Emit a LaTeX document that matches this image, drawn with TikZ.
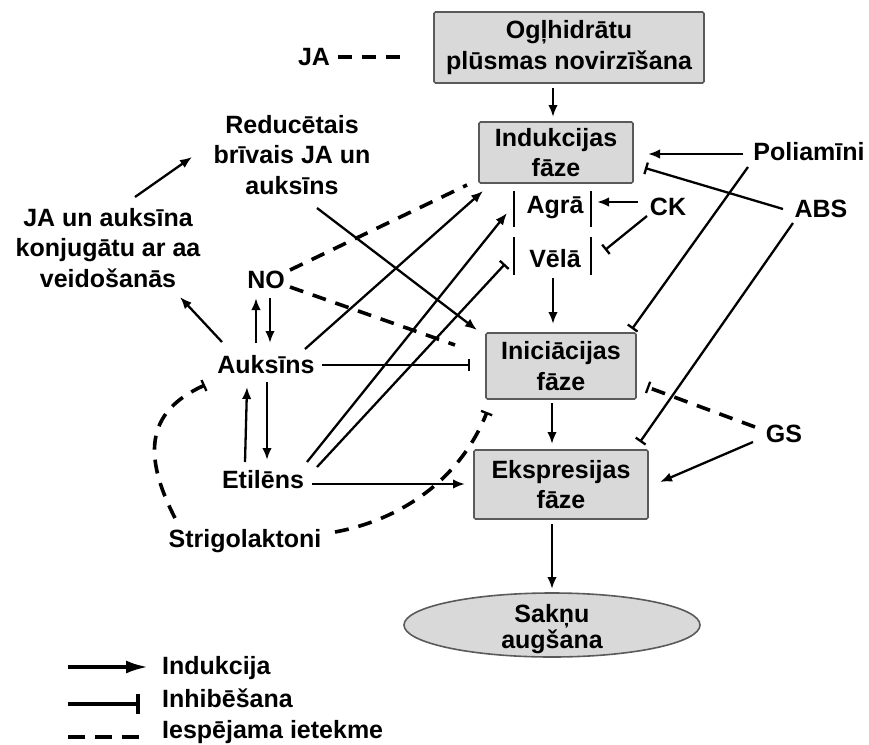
\documentclass[tikz,border=0pt]{standalone}
\usepackage{fontspec}
\setmainfont{Liberation Sans}
\usetikzlibrary{arrows.meta,shapes.geometric}
\definecolor{boxfill}{HTML}{D9D9D9}
\definecolor{boxborder}{HTML}{5A5A5A}
\begin{document}
\begin{tikzpicture}[x=1pt,y=-1pt,
  font=\bfseries\fontsize{25}{30.5}\selectfont,
  lbl/.style={inner sep=0pt, anchor=base},
  mlbl/.style={inner sep=0pt, align=center},
  phase/.style={draw=boxborder, fill=boxfill, line width=1.6pt, rounded corners=1.5pt, inner sep=0pt, align=center},
  conn/.style={line width=2.3pt},
  indarr/.style={conn, -{Latex[length=12pt,width=9.5pt]}},
  inharr/.style={conn, -{Bar[width=12pt,line width=2.3pt]}},
  poss/.style={line width=3.6pt, dash pattern=on 14pt off 10pt},
  posinh/.style={poss, -{Bar[width=12pt,line width=2.3pt]}},
  stage/.style={line width=2.6pt}
]
\useasboundingbox (0,0) rectangle (869,744);

% boxes
\node[phase, minimum width=270pt, minimum height=71pt] (ogl) at (569,47.5) {Ogļhidrātu\\plūsmas novirzīšana};
\node[phase, minimum width=154pt, minimum height=61pt] (indf) at (556,152.5) {Indukcijas\\fāze};
\node[phase, minimum width=150pt, minimum height=66pt] (inif) at (561,366) {Iniciācijas\\fāze};
\node[phase, minimum width=174pt, minimum height=69pt] (eksf) at (561,484.5) {Ekspresijas\\fāze};
\node[ellipse, draw=boxborder, fill=boxfill, line width=1.6pt, minimum width=296pt, minimum height=64pt, inner sep=0pt] (sak) at (552,625) {};
\node[mlbl, font=\bfseries\fontsize{25}{26}\selectfont] (saktxt) at (552,629.5) {Sakņu\\augšana};

% stages
\node[lbl] (agra) at (555,213) {Agrā};
\node[lbl] (vela) at (555,267) {Vēlā};
\draw[stage] (514,191) -- (514,227);
\draw[stage] (591,191) -- (591,227);
\draw[stage] (514,237) -- (514,275);
\draw[stage] (591,237) -- (591,275);

% labels
\node[lbl] (ja) at (314,65) {JA};
\node[mlbl] (red) at (292,155) {Reducētais\\brīvais JA un\\auksīns};
\node[mlbl] (konj) at (108,248) {JA un auksīna\\konjugātu ar aa\\veidošanās};
\node[lbl] (no) at (266,288) {NO};
\node[lbl] (aux) at (266,373) {Auksīns};
\node[lbl] (eti) at (263,488) {Etilēns};
\node[lbl] (str) at (245,547) {Strigolaktoni};
\node[lbl] (pol) at (809,160) {Poliamīni};
\node[lbl] (abs) at (821,217) {ABS};
\node[lbl] (ck) at (668,215) {CK};
\node[lbl] (gs) at (784,442) {GS};

% coordinates
\coordinate (jaE) at (338,57);   \coordinate (oglW) at (407,57);
\coordinate (oglS) at (553,88);  \coordinate (indN) at (553,117);
\coordinate (konjNE) at (135,197); \coordinate (redSW) at (192,157);
\coordinate (redS) at (317,208); \coordinate (iniNW) at (477,330);
\coordinate (noNE) at (290,270); \coordinate (indSW) at (467,185);
\coordinate (noE) at (290,287);  \coordinate (iniW1) at (455,345);
\coordinate (auxNE) at (305,349); \coordinate (indSW2) at (483,191);
\coordinate (etiNE) at (307,462); \coordinate (agraW) at (507,213);
\coordinate (etiNE2) at (317,467); \coordinate (velaW) at (505,264);
\coordinate (auxE) at (322,365); \coordinate (iniW) at (470,365);
\coordinate (etiE) at (312,484); \coordinate (eksW) at (465,484);
\coordinate (auxN1) at (256,343); \coordinate (noS1) at (256,298);
\coordinate (noS2) at (270,298); \coordinate (auxN2) at (270,343);
\coordinate (auxNW) at (222,342); \coordinate (konjSE) at (180,297);
\coordinate (etiN1) at (245,462); \coordinate (auxS1) at (247,387);
\coordinate (auxS2) at (267,382); \coordinate (etiN2) at (267,460);
\coordinate (strN) at (175,518); \coordinate (auxSW) at (205,385);
\coordinate (strE) at (335,532); \coordinate (iniSW) at (487,412);
\coordinate (velaS) at (553,278); \coordinate (iniN) at (553,324);
\coordinate (iniS) at (552,403); \coordinate (eksN) at (552,444);
\coordinate (eksS) at (552,524); \coordinate (sakN) at (552,589);
\coordinate (ckW) at (638,202); \coordinate (agraE) at (597,202);
\coordinate (ckSW) at (647,216); \coordinate (velaE) at (605,250);
\coordinate (polW) at (743,154); \coordinate (indE) at (648,154);
\coordinate (absW) at (783,209); \coordinate (indSE) at (645,168);
\coordinate (polSW) at (748,167); \coordinate (iniNE) at (632,329);
\coordinate (absSW) at (793,223); \coordinate (eksNE) at (640,442);
\coordinate (gsW) at (755,427); \coordinate (iniE) at (647,387);
\coordinate (gsW2) at (753,442); \coordinate (eksE) at (660,482);

% connectors
\draw[poss] (jaE) -- (oglW);
\draw[indarr] (oglS) -- (indN);
\draw[indarr] (konjNE) -- (redSW);
\draw[indarr] (redS) -- (iniNW);
\draw[poss] (noNE) -- (indSW);
\draw[poss] (noE) -- (iniW1);
\draw[indarr] (auxNE) -- (indSW2);
\draw[indarr] (etiNE) -- (agraW);
\draw[inharr] (etiNE2) -- (velaW);
\draw[inharr] (auxE) -- (iniW);
\draw[indarr] (etiE) -- (eksW);
\draw[indarr] (auxN1) -- (noS1);
\draw[indarr] (noS2) -- (auxN2);
\draw[indarr] (auxNW) -- (konjSE);
\draw[indarr] (etiN1) -- (auxS1);
\draw[indarr] (auxS2) -- (etiN2);
\draw[posinh] (strN) .. controls (140,450) and (150,410) .. (auxSW);
\draw[posinh] (strE) .. controls (400,520) and (460,480) .. (iniSW);
\draw[indarr] (velaS) -- (iniN);
\draw[indarr] (iniS) -- (eksN);
\draw[indarr] (eksS) -- (sakN);
\draw[indarr] (ckW) -- (agraE);
\draw[inharr] (ckSW) -- (velaE);
\draw[indarr] (polW) -- (indE);
\draw[inharr] (absW) -- (indSE);
\draw[inharr] (polSW) -- (iniNE);
\draw[inharr] (absSW) -- (eksNE);
\draw[posinh] (gsW) -- (iniE);
\draw[indarr] (gsW2) -- (eksE);

% legend
\coordinate (l1a) at (68,667); \coordinate (l1b) at (148,667);
\coordinate (l2a) at (68,704); \coordinate (l2b) at (140,704);
\coordinate (l3a) at (68,737); \coordinate (l3b) at (140,737);
\draw[line width=3.5pt, -{Latex[length=22pt,width=13pt]}] (l1a) -- (l1b);
\draw[line width=3.5pt, -{Bar[width=20pt,line width=4pt]}] (l2a) -- (l2b);
\draw[line width=4.5pt, dash pattern=on 17pt off 10pt] (l3a) -- (l3b);
\node[lbl, anchor=base west] (lg1) at (162,674) {Indukcija};
\node[lbl, anchor=base west] (lg2) at (162,707) {Inhibēšana};
\node[lbl, anchor=base west] (lg3) at (162,738) {Iespējama ietekme};
\end{tikzpicture}
\end{document}
